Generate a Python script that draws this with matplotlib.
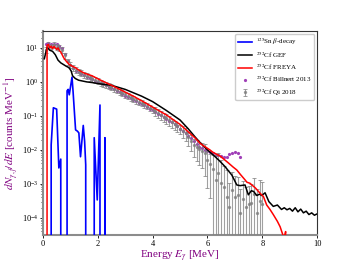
import numpy as np
import matplotlib
matplotlib.use("Agg")
import matplotlib.pyplot as plt

plt.rcParams['font.family'] = ['Liberation Serif', 'DejaVu Serif']
plt.rcParams['mathtext.fontset'] = 'stix'

# 125Sn beta-decay (energy, log10 value; None -> zero)
sn_e = [0.0, 0.27, 0.30, 0.38, 0.50, 0.58, 0.65, 0.68, 0.85, 0.88, 0.92, 0.96, 1.06, 1.10,
        1.19, 1.26, 1.31, 1.37, 1.47, 1.52, 1.56, 1.58, 1.85, 1.87, 1.98, 2.08, 2.10,
        2.24, 2.26, 2.28, 2.50]
sn_log = [None, None, -1.85, -0.76, -0.80, -2.53, -2.27, None, None, -0.26, -0.22, -0.38, 0.14, -0.3,
          -1.41, -1.45, -1.5, -2.2, -1.28, -1.75, -2.44, None, None, -1.64, -3.47, -0.68, None,
          None, -1.64, None, None]

# 252Cf GEF
gef_e = [0.05, 0.15, 0.25, 0.35, 0.45, 0.55, 0.65, 0.75, 0.85, 0.95, 1.03, 1.08, 1.18, 1.3,
         1.42, 1.6, 1.8, 2.1, 2.5, 3.0, 3.3, 3.6, 4.0, 4.5, 5.0, 5.3, 5.55, 5.75, 6.0, 6.28,
         6.45, 6.64, 6.89, 7.07, 7.19, 7.37, 7.49, 7.6, 7.68, 7.8, 7.9, 7.98, 8.1, 8.24, 8.4,
         8.55, 8.7, 8.8, 8.9, 9.0, 9.1, 9.2, 9.3, 9.4, 9.5, 9.6, 9.7, 9.8, 9.9, 10.0]
gef_log = [0.68, 1.02, 0.93, 0.90, 0.80, 0.64, 0.56, 0.51, 0.46, 0.42, 0.32, 0.18, 0.10, 0.05,
           0.03, 0.0, -0.02, -0.06, -0.10, -0.22, -0.32, -0.42, -0.58, -0.84, -1.12, -1.38, -1.62, -1.8, -2.0, -2.2,
           -2.33, -2.49, -2.74, -3.03, -3.05, -3.03, -3.32, -3.2, -3.22, -3.34, -3.3, -3.34, -3.26, -3.52, -3.66,
           -3.62, -3.75, -3.7, -3.76, -3.72, -3.8, -3.7, -3.82, -3.74, -3.85, -3.8, -3.9, -3.85, -3.92, -3.88]

# 252Cf FREYA
freya_e = [0.12, 0.15, 0.2, 0.25, 0.3, 0.35, 0.4, 0.45, 0.5, 0.55, 0.6, 0.65, 0.7, 0.75, 0.8,
           0.88, 0.95, 1.05, 1.18, 1.3, 1.5, 1.79, 2.08, 2.5, 3.0, 3.3, 3.7, 4.0, 4.5, 5.0,
           5.55, 5.75, 6.09, 6.2, 6.46, 6.76, 6.93, 7.07, 7.2, 7.37, 7.44, 7.55, 7.62, 7.75,
           7.86, 7.95, 8.04, 8.16, 8.28, 8.4, 8.55, 8.65, 8.75, 8.8, 8.85, 8.9]
freya_log = [None, 1.08, 1.1, 1.0, 1.05, 0.98, 1.04, 1.0, 0.95, 1.0, 0.92, 0.88, 0.8, 0.72, 0.66,
             0.58, 0.52, 0.47, 0.42, 0.35, 0.26, 0.18, 0.06, -0.1, -0.3, -0.42, -0.6, -0.74, -0.97, -1.25,
             -1.65, -1.82, -2.0, -2.07, -2.18, -2.38, -2.5, -2.59, -2.72, -2.88, -2.95, -2.98, -3.03, -3.12,
             -3.22, -3.3, -3.37, -3.62, -3.75, -3.9, -4.1, -4.26, -4.5, -4.6, -4.4, None]

# 252Cf Billnert 2013
bil_e = [round(0.1 * i, 1) for i in range(1, 73)]
bil_log = [1.1, 1.15, 1.12, 1.1, 1.12, 1.05, 1.0, 0.82, 0.62, 0.5,
           0.41, 0.33, 0.28, 0.24, 0.2, 0.15, 0.11, 0.08, 0.04, 0.01,
           -0.03, -0.07, -0.1, -0.14, -0.18, -0.22, -0.26, -0.31, -0.35, -0.4,
           -0.44, -0.48, -0.52, -0.57, -0.61, -0.65, -0.69, -0.74, -0.79, -0.84,
           -0.88, -0.93, -0.98, -1.03, -1.08, -1.14, -1.19, -1.25, -1.31, -1.37,
           -1.43, -1.5, -1.58, -1.66, -1.75, -1.84, -1.9, -1.95, -1.99, -2.03,
           -2.07, -2.1, -2.14, -2.16, -2.18, -2.22, -2.2, -2.12, -2.08, -2.07,
           -2.1, -2.22]

# 252Cf Qi 2018
qi_e = [round(0.1 * i, 1) for i in range(1, 81)]
qi_log = [0.95, 1.08, 1.05, 1.08, 1.04, 1.0, 0.95, 0.78, 0.6, 0.5,
          0.42, 0.35, 0.3, 0.26, 0.21, 0.17, 0.13, 0.1, 0.06, 0.03,
          -0.01, -0.05, -0.08, -0.12, -0.15, -0.2, -0.24, -0.29, -0.33, -0.37,
          -0.41, -0.45, -0.5, -0.54, -0.58, -0.62, -0.66, -0.71, -0.76, -0.81,
          -0.86, -0.91, -0.96, -1.02, -1.07, -1.13, -1.19, -1.25, -1.31, -1.37,
          -1.44, -1.51, -1.62, -1.74, -1.86, -1.92, -1.98, -2.02, -2.08, -2.3,
          -2.4, -2.55, -2.88, -2.68, -2.97, -3.08, -3.38, -3.68, -3.18, -3.38,
          -3.32, -3.85, -3.45, -3.68, -3.6, -3.55, -3.3, -3.85, -3.5, -3.6]
qi_rel = [0.2] * 40 + [0.3] * 10 + [0.4, 0.4, 0.45, 0.5, 0.55, 0.6, 0.65, 0.7, 0.8, 0.85,
          0.9, 1.5, 4.4, 3.0, 3.7, 3.0, 5.0, 4.0, 2.5, 3.0,
          2.4, 4.0, 2.5, 3.0, 2.5, 2.5, 2.0, 4.0, 3.0, 3.4]


def to_lin(vals):
    return np.array([0.0 if v is None else 10.0 ** v for v in vals])


fig = plt.figure(figsize=(3.52, 2.64), dpi=100)
ax = fig.add_axes([0.122, 0.11, 0.779, 0.773])

bil = ax.plot(bil_e, to_lin(bil_log), 'o', color='#a040b8', ms=2.3, mew=0, zorder=2,
              label=r'$^{252}$Cf Billnert 2013')[0]
qi_y = to_lin(qi_log)
qi = ax.errorbar(qi_e, qi_y, yerr=qi_y * np.array(qi_rel), fmt='o', color='gray', ms=1.4,
                 elinewidth=0.8, capsize=1.5, capthick=0.7, alpha=0.75, zorder=3,
                 label=r'$^{252}$Cf Qi 2018')
sn = ax.plot(sn_e, to_lin(sn_log), color='blue', lw=1.2, zorder=4,
             label=r'$^{125}$Sn $\beta$-decay')[0]
gef = ax.plot(gef_e, to_lin(gef_log), color='black', lw=1.1, zorder=5,
              label=r'$^{252}$Cf GEF')[0]
freya = ax.plot(freya_e, to_lin(freya_log), color='red', lw=1.1, zorder=6,
                label=r'$^{252}$Cf FREYA')[0]

ax.set_yscale('log')
ax.set_xlim(0, 10)
ax.set_ylim(10 ** -4.5, 10 ** 1.5)
ax.set_xticks([0, 2, 4, 6, 8, 10])
ax.tick_params(labelsize=6, length=2, width=0.6, pad=1.5)
ax.tick_params(which='minor', length=1.2, width=0.5)

for side in ['left', 'bottom']:
    ax.spines[side].set_color('0.55')
    ax.spines[side].set_linewidth(1.5)
for side in ['top', 'right']:
    ax.spines[side].set_color('0.2')
    ax.spines[side].set_linewidth(0.8)

ax.set_xlabel(r'Energy $E_{\gamma}$ [MeV]', color='purple', fontsize=8, labelpad=1)
ax.set_ylabel(r'$dN_{\gamma,f}/dE$ [counts MeV$^{-1}$]', color='purple', fontsize=8, labelpad=1)

ax.legend([sn, gef, freya, bil, qi],
          [r'$^{125}$Sn $\beta$-decay', r'$^{252}$Cf GEF', r'$^{252}$Cf FREYA',
           r'$^{252}$Cf Billnert 2013', r'$^{252}$Cf Qi 2018'],
          loc='upper right', fontsize=5, handlelength=2.0, handletextpad=0.6,
          borderaxespad=0.4, labelspacing=0.35, framealpha=1)

fig.savefig('out.png', dpi=100)
